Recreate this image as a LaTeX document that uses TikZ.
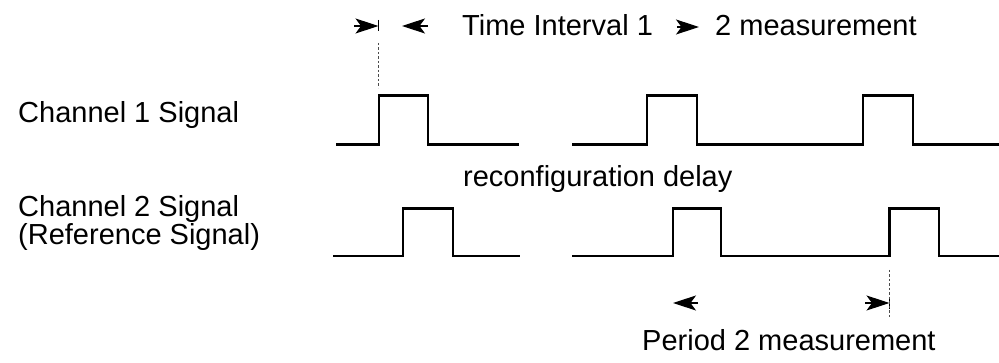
\documentclass[tikz,border=0pt]{standalone}
\usepackage{fontspec}
\setmainfont{Liberation Sans}
\usetikzlibrary{arrows.meta}
\begin{document}
\begin{tikzpicture}[x=1pt,y=-1pt,
  lbl/.style={anchor=base west, inner sep=0pt, font=\fontsize{29}{25.5}\selectfont},
  sig/.style={line width=2.6pt, line join=miter, line cap=butt},
  guide/.style={line width=0.9pt, dash pattern=on 2.5pt off 2pt, black!70},
  head/.style={-{Stealth[length=23pt,width=15pt,inset=5.5pt]}, line width=1.2pt},
  tickmark/.style={line width=1.1pt}]
\useasboundingbox[fill=white] (0,0) rectangle (999,363);

% labels
\node[lbl] (ti) at (462,36) {Time Interval 1};
\node[lbl] (tm) at (715,36) {2 measurement};
\node[lbl] (c1) at (18,123) {Channel 1 Signal};
\node[lbl] (rd) at (463,187) {reconfiguration delay};
\node[lbl, align=left] (c2) at (18,245) {Channel 2 Signal\\(Reference Signal)};
\node[lbl] (pm) at (642,351) {Period 2 measurement};

% channel 1 signal
\draw[sig] (336,144.5) -- (379,144.5) -- (379,95.5) -- (428,95.5) -- (428,144.5) -- (519,144.5);
\draw[sig] (572,144.5) -- (647,144.5) -- (647,95.5) -- (697,95.5) -- (697,144.5)
  -- (863,144.5) -- (863,95.5) -- (913,95.5) -- (913,144.5) -- (999,144.5);

% channel 2 signal
\draw[sig] (333,256) -- (403,256) -- (403,208.5) -- (453,208.5) -- (453,256) -- (520,256);
\draw[sig] (572,256) -- (673,256) -- (673,208.5) -- (721,208.5) -- (721,256)
  -- (889.5,256) -- (889.5,208.5) -- (939,208.5) -- (939,256) -- (999,256);

% time interval markers
\coordinate (ta0) at (354,26);
\coordinate (ta1) at (378.5,26);
\coordinate (tb0) at (428,26);
\coordinate (tb1) at (402,26);
\draw[head] (ta0) -- (ta1);
\draw[head] (tb0) -- (tb1);
\draw[tickmark] (378.5,20) -- (378.5,31);
\draw[guide] (378.5,43) -- (378.5,88);

% arrow inside the heading
\coordinate (tx0) at (677,27);
\coordinate (tx1) at (699,27);
\draw[head] (tx0) -- (tx1);

% period markers
\coordinate (pa0) at (698,303);
\coordinate (pa1) at (673,303);
\coordinate (pb0) at (865,303);
\coordinate (pb1) at (889.5,303);
\draw[head] (pa0) -- (pa1);
\draw[head] (pb0) -- (pb1);
\draw[tickmark] (889.5,297) -- (889.5,309);
\draw[guide] (889.5,270) -- (889.5,317);
\end{tikzpicture}
\end{document}
